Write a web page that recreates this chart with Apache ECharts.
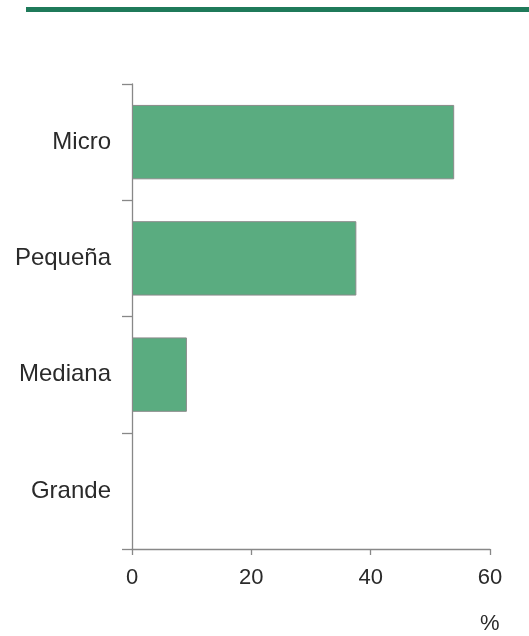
<!DOCTYPE html>
<html>
<head>
<meta charset="utf-8">
<script src="https://cdn.jsdelivr.net/npm/echarts@6/dist/echarts.min.js"></script>
<style>
html,body{margin:0;padding:0;background:#fff;}
#chart{width:529px;height:636px;}
</style>
</head>
<body>
<div id="chart"></div>
<script>
const categories = ['Micro', 'Pequeña', 'Mediana', 'Grande'];
const values = [54, 37.6, 9.2, 0];
const xTicks = [0, 20, 40, 60];
const unitLabel = '%';

const chart = echarts.init(document.getElementById('chart'), null, {renderer: 'canvas'});
const axisColor = '#888888';
const textColor = '#2a2a2a';
const fontFamily = 'Liberation Sans, Arial, sans-serif';

const seriesData = values.map(v => ({
  value: v,
  itemStyle: v === 0 ? {borderWidth: 0, opacity: 0} : {}
}));

chart.setOption({
  animation: false,
  backgroundColor: '#ffffff',
  grid: {left: 132, right: 39, top: 84, bottom: 87, containLabel: false},
  xAxis: {
    type: 'value',
    min: xTicks[0],
    max: xTicks[xTicks.length - 1],
    interval: xTicks[1] - xTicks[0],
    axisLine: {show: true, lineStyle: {color: axisColor, width: 1.3}},
    axisTick: {show: true, length: 6, lineStyle: {color: axisColor, width: 1.3}},
    splitLine: {show: false},
    axisLabel: {color: textColor, fontSize: 22, fontFamily: fontFamily, margin: 18}
  },
  yAxis: {
    type: 'category',
    data: categories,
    inverse: true,
    axisLine: {show: true, lineStyle: {color: axisColor, width: 1.3}},
    axisTick: {show: true, length: 10, lineStyle: {color: axisColor, width: 1.3}},
    axisLabel: {color: textColor, fontSize: 24, fontFamily: fontFamily, margin: 21}
  },
  series: [{
    type: 'bar',
    data: seriesData,
    barWidth: '64%',
    itemStyle: {color: '#5aac80', borderColor: '#8a8a8a', borderWidth: 1}
  }],
  graphic: [
    {type: 'rect', left: 26, top: 7, shape: {width: 503, height: 5}, style: {fill: '#1f7a5a'}},
    {type: 'text', left: 480, top: 613, style: {text: unitLabel, fill: textColor, font: '22px ' + fontFamily}}
  ]
});
</script>
</body>
</html>
